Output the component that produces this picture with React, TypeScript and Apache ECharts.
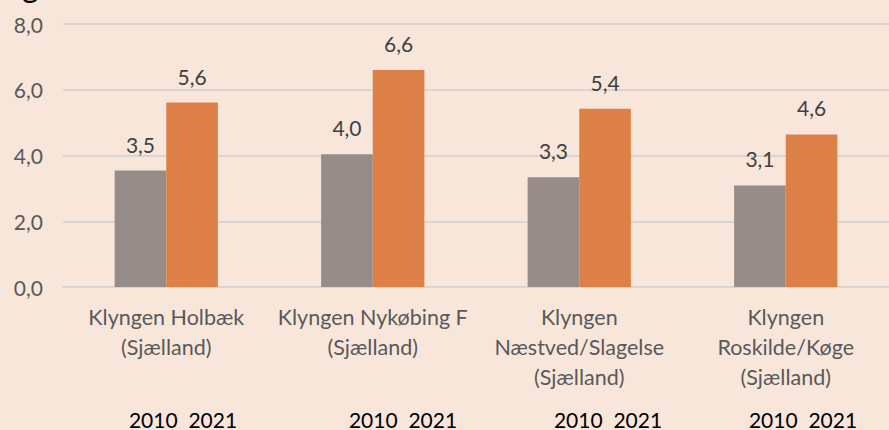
import React, { useEffect, useRef } from "react";
import * as echarts from "echarts";

const categories = [
  "Klyngen Holbæk\n(Sjælland)",
  "Klyngen Nykøbing F\n(Sjælland)",
  "Klyngen\nNæstved/Slagelse\n(Sjælland)",
  "Klyngen\nRoskilde/Køge\n(Sjælland)",
];
const values2010 = [3.54, 4.04, 3.34, 3.09];
const values2021 = [5.61, 6.6, 5.42, 4.64];
const yearLabels = ["2010  2021", "2010  2021", "2010  2021", "2010  2021"];
const yearLabelX = [183, 403, 608, 803];

const FONT = "Lato, 'Noto Sans', sans-serif";
const fmt = (v: number) => v.toFixed(1).replace(".", ",");

export default function App() {
  const ref = useRef<HTMLDivElement>(null);
  useEffect(() => {
    if (!ref.current) return;
    const chart = echarts.init(ref.current, null, { renderer: "svg" });
    const labelStyle = {
      show: true,
      position: "top" as const,
      distance: 16,
      color: "#404040",
      fontSize: 21,
      fontFamily: FONT,
      formatter: (p: any) => fmt(p.value),
    };
    chart.setOption({
      animation: false,
      backgroundColor: "#F8E6DB",
      grid: { left: 63, top: 24, width: 835, height: 263, containLabel: false },
      xAxis: {
        type: "category",
        data: categories,
        axisLine: { show: true, lineStyle: { color: "#DAD5D2", width: 2 } },
        axisTick: { show: false },
        axisLabel: {
          interval: 0,
          margin: 15,
          color: "#595959",
          fontSize: 21.5,
          lineHeight: 30,
          fontFamily: FONT,
          hideOverlap: false,
        },
      },
      yAxis: {
        type: "value",
        min: 0,
        max: 8,
        interval: 2,
        axisLine: { show: false },
        axisTick: { show: false },
        splitLine: { lineStyle: { color: "#DAD5D2", width: 2 } },
        axisLabel: {
          margin: 20,
          color: "#595959",
          fontSize: 21,
          fontFamily: FONT,
          formatter: (v: number) => fmt(v),
        },
      },
      series: [
        {
          name: "2010",
          type: "bar",
          data: values2010,
          itemStyle: { color: "#968D8B" },
          barGap: "0%",
          barCategoryGap: "50%",
          label: labelStyle,
        },
        {
          name: "2021",
          type: "bar",
          data: values2021,
          itemStyle: { color: "#DD8047" },
          barGap: "0%",
          barCategoryGap: "50%",
          label: labelStyle,
        },
      ],
      graphic: [
        {
          type: "text",
          left: 22,
          top: -32,
          style: { text: "g", fontSize: 32, fill: "#000", fontFamily: FONT },
        },
        ...yearLabels.map((t, i) => ({
          type: "text",
          x: yearLabelX[i],
          y: 419,
          style: {
            text: t,
            fontSize: 21,
            fill: "#000",
            fontFamily: FONT,
            align: "center",
            verticalAlign: "middle",
          },
        })),
      ],
    });
    return () => chart.dispose();
  }, []);
  return (
    <div
      ref={ref}
      style={{ position: "fixed", left: 0, top: 0, width: 889, height: 430 }}
    />
  );
}
